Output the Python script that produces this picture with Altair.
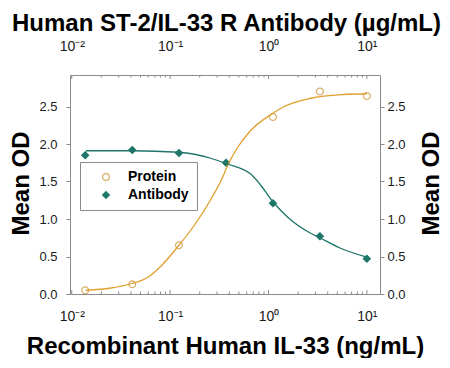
import altair as alt
import pandas as pd

# ---------------- data ----------------
series_names = ["Protein", "Antibody"]

conc = [0.0137, 0.0412, 0.123, 0.370, 1.11, 3.33, 10.0]
protein_od = [0.05, 0.13, 0.65, None, 2.36, 2.70, 2.64]
antibody_od = [1.85, 1.92, 1.88, 1.75, 1.21, 0.77, 0.47]

protein_fit_x = [0.0139, 0.0251, 0.0407, 0.0589, 0.0692, 0.0805, 0.123, 0.175,
                 0.259, 0.340, 0.383, 0.483, 0.659, 1.11, 1.44, 2.68, 5.79, 10.0]
protein_fit_y = [0.05, 0.08, 0.14, 0.22, 0.29, 0.37, 0.65, 0.91,
                 1.26, 1.55, 1.71, 1.95, 2.18, 2.41, 2.50, 2.61, 2.66, 2.67]

antibody_fit_x = [0.0139, 0.0407, 0.123, 0.259, 0.368, 0.661, 0.834, 1.11,
                  1.58, 2.68, 3.31, 5.41, 10.0]
antibody_fit_y = [1.91, 1.91, 1.89, 1.81, 1.74, 1.60, 1.45, 1.23,
                  1.02, 0.81, 0.75, 0.61, 0.49]

major_ticks = [0.01, 0.1, 1, 10]
major_labels = ["10\u207b\u00b2", "10\u207b\u00b9", "10\u2070", "10\u00b9"]
minor_ticks = [0.02, 0.03, 0.04, 0.05, 0.06, 0.07, 0.08, 0.09,
               0.2, 0.3, 0.4, 0.5, 0.6, 0.7, 0.8, 0.9,
               2, 3, 4, 5, 6, 7, 8, 9]
y_ticks = [0.0, 0.5, 1.0, 1.5, 2.0, 2.5]

x_title_bottom = "Recombinant Human IL-33 (ng/mL)"
x_title_top = "Human ST-2/IL-33 R Antibody (\u00b5g/mL)"
y_title = "Mean OD"

# ---------------- tables ----------------
pts = pd.DataFrame(
    [{"c": c, "od": v, "s": "Protein"} for c, v in zip(conc, protein_od) if v is not None]
    + [{"c": c, "od": v, "s": "Antibody"} for c, v in zip(conc, antibody_od)]
)
fits = pd.DataFrame(
    [{"c": c, "od": v, "s": "Protein"} for c, v in zip(protein_fit_x, protein_fit_y)]
    + [{"c": c, "od": v, "s": "Antibody"} for c, v in zip(antibody_fit_x, antibody_fit_y)]
)
majors = pd.DataFrame({"v": major_ticks})
minors = pd.DataFrame({"v": minor_ticks})

W, H = 310, 219
LABEL_FONT = "Liberation Sans"
TITLE_FONT = "Liberation Sans"
AXIS_GREY = "#8a8a8a"

xscale = alt.Scale(type="log", domain=[0.0096, 13.6], nice=False)
yscale = alt.Scale(domain=[0, 2.92], nice=False, zero=False)

label_expr = "'" + major_labels[-1] + "'"
for v, l in reversed(list(zip(major_ticks[:-1], major_labels[:-1]))):
    label_expr = f"datum.value < {v * 3} ? '{l}' : {label_expr}"

common_x = dict(values=major_ticks, labelExpr=label_expr, ticks=False, tickSize=0,
                labelFont=LABEL_FONT, labelFontSize=14, labelColor="#1a1a1a",
                domainColor=AXIS_GREY, grid=False, titleFont=TITLE_FONT,
                titleFontSize=24, titleFontWeight="bold", titleColor="#000000",
                titleAlign="center", titleBaseline="alphabetic", titleAngle=0)
common_y = dict(values=y_ticks, format=".1f", tickSize=4, tickColor=AXIS_GREY,
                labelFont=LABEL_FONT, labelFontSize=13, labelColor="#1a1a1a",
                domainColor=AXIS_GREY, grid=False, titleFont=TITLE_FONT,
                titleFontSize=24, titleFontWeight="bold", titleColor="#000000",
                titleAlign="center", titleBaseline="alphabetic", titleAngle=270)

ax_bottom = alt.Axis(orient="bottom", title=x_title_bottom, labelPadding=15,
                     titleX=155, titleY=59, **common_x)
ax_top = alt.Axis(orient="top", title=x_title_top, labelPadding=22,
                  titleX=156, titleY=-45, **common_x)
ax_left = alt.Axis(orient="left", title=y_title, labelPadding=9,
                   titleX=-42, titleY=108, **common_y)
ax_right = alt.Axis(orient="right", title=y_title, labelPadding=3,
                    titleX=58, titleY=108, **common_y)

line_colors = ["#E0A02E", "#1D7669"]
point_stroke = ["#D6AE68", "#1D7669"]
point_fill = ["#ffffff", "#1D7669"]

lines = alt.Chart(fits).mark_line(strokeWidth=1.3, interpolate="monotone").encode(
    x=alt.X("c:Q", scale=xscale, axis=ax_bottom),
    y=alt.Y("od:Q", scale=yscale, axis=ax_left),
    stroke=alt.Stroke("s:N", scale=alt.Scale(domain=series_names, range=line_colors), legend=None),
    detail="s:N",
)

points = alt.Chart(pts).mark_point(size=48, strokeWidth=1.2, opacity=1).encode(
    x=alt.X("c:Q", scale=xscale, axis=ax_top),
    y=alt.Y("od:Q", scale=yscale, axis=ax_right),
    shape=alt.Shape("s:N", scale=alt.Scale(domain=series_names, range=["circle", "diamond"]),
                    title=None,
                    legend=alt.Legend(orient="none", legendX=10, legendY=87,
                                      strokeColor=AXIS_GREY, fillColor="#ffffff", padding=8,
                                      labelFont=TITLE_FONT, labelFontSize=14,
                                      labelFontWeight="bold", labelColor="#000000",
                                      symbolSize=45, symbolStrokeWidth=1.2,
                                      symbolOffset=11, labelOffset=15, rowPadding=4)),
    color=alt.Color("s:N", scale=alt.Scale(domain=series_names, range=point_stroke),
                    title=None, legend=alt.Legend(orient="none", legendX=10, legendY=87)),
    fill=alt.Fill("s:N", scale=alt.Scale(domain=series_names, range=point_fill),
                  title=None, legend=alt.Legend(orient="none", legendX=10, legendY=87)),
)

def xticks(df, y0, y1):
    return alt.Chart(df).mark_rule(color=AXIS_GREY, strokeWidth=1).encode(
        x=alt.X("v:Q", scale=xscale, axis=None),
        y=alt.value(y0), y2=alt.value(y1),
    )

tick_layers = [
    xticks(majors, H, H - 4), xticks(minors, H, H - 2.5),
    xticks(majors, 0, 4), xticks(minors, 0, 2.5),
]

chart = alt.layer(points, lines, *tick_layers).resolve_axis(
    x="independent", y="independent"
).resolve_scale(stroke="independent").properties(
    width=W, height=H,
    autosize=alt.AutoSizeParams(type="none"),
    padding={"left": 62, "top": 67, "right": 62, "bottom": 64},
).configure_view(stroke=None)

chart.save("out.html", embed_options={"renderer": "svg", "actions": False})
